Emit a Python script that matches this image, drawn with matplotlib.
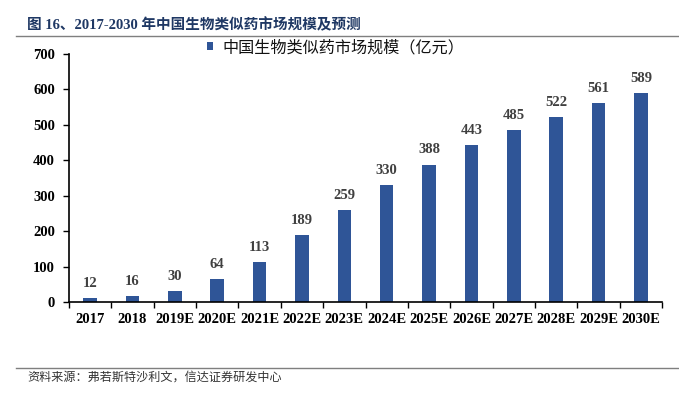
import matplotlib
matplotlib.use("Agg")
import matplotlib.pyplot as plt
from matplotlib.lines import Line2D

categories = ["2017", "2018", "2019E", "2020E", "2021E", "2022E", "2023E",
              "2024E", "2025E", "2026E", "2027E", "2028E", "2029E", "2030E"]
values = [12, 16, 30, 64, 113, 189, 259, 330, 388, 443, 485, 522, 561, 589]
y_ticks = [0, 100, 200, 300, 400, 500, 600, 700]
series_name = "中国生物类似药市场规模（亿元）"
title_text = "图 16、2017-2030 年中国生物类似药市场规模及预测"
source_text = "资料来源：弗若斯特沙利文，信达证券研发中心"

W, H = 679, 396
fig = plt.figure(figsize=(W / 100, H / 100), dpi=100)
ax = fig.add_axes([69 / W, 1 - 302 / H, (662 - 69) / W, (302 - 54) / H])

bar_color = "#2F5597"
serif = ["Liberation Serif", "Noto Sans CJK SC"]
cjk = ["Noto Sans CJK SC", "DejaVu Sans"]

x = list(range(len(categories)))
bars = ax.bar(x, values, width=0.32, color=bar_color, label=series_name, zorder=2)

ax.set_xlim(-0.5, len(categories) - 0.5)
ax.set_ylim(0, 700)
ax.set_yticks(y_ticks)
ax.set_yticklabels([str(t) for t in y_ticks], fontfamily=serif, fontweight="bold",
                   fontsize=10.5, color="black")
ax.set_xticks(x)
ax.set_xticklabels(categories, fontfamily=serif, fontweight="bold",
                   fontsize=10.5, color="black")
# x ticks between categories
ax.set_xticks([i - 0.5 for i in range(len(categories) + 1)], minor=True)
ax.tick_params(axis="x", which="major", length=0, pad=8)
ax.tick_params(axis="x", which="minor", length=4, width=1, direction="out", color="black")
ax.tick_params(axis="y", which="major", length=4, width=1, direction="out", pad=6, color="black")

for side in ["top", "right"]:
    ax.spines[side].set_visible(False)
for side in ["left", "bottom"]:
    ax.spines[side].set_linewidth(1.2)
    ax.spines[side].set_color("black")

for xi, v in zip(x, values):
    ax.annotate(str(v), xy=(xi, v), xytext=(0, 10.5), textcoords="offset points",
                ha="center", va="center", fontfamily=serif, fontweight="bold",
                fontsize=10.5, color="#404040")

leg = ax.legend(handles=[bars], loc="center left",
                bbox_to_anchor=(207 / W, 1 - 47.5 / H), bbox_transform=fig.transFigure,
                frameon=False, borderaxespad=0, borderpad=0,
                handlelength=0.4, handleheight=0.4, handletextpad=0.55,
                prop={"family": cjk, "size": 11.6})
for t in leg.get_texts():
    t.set_color("#111111")

# title and separator lines
fig.text(27 / W, 1 - 24.5 / H, title_text, ha="left", va="center",
         fontfamily=serif, fontweight="bold", fontsize=10.5, color="#1F3864")
fig.add_artist(Line2D([16 / W, 1.0], [1 - 35.5 / H] * 2, transform=fig.transFigure,
                      color="#7F7F7F", linewidth=1.0))
fig.add_artist(Line2D([16 / W, 1.0], [1 - 368 / H] * 2, transform=fig.transFigure,
                      color="#7F7F7F", linewidth=1.0))
fig.text(27 / W, 1 - 377.5 / H, source_text, ha="left", va="center",
         fontfamily=cjk, fontsize=8.7, color="#333333", fontstyle="italic")

fig.savefig("out.png", dpi=100)
